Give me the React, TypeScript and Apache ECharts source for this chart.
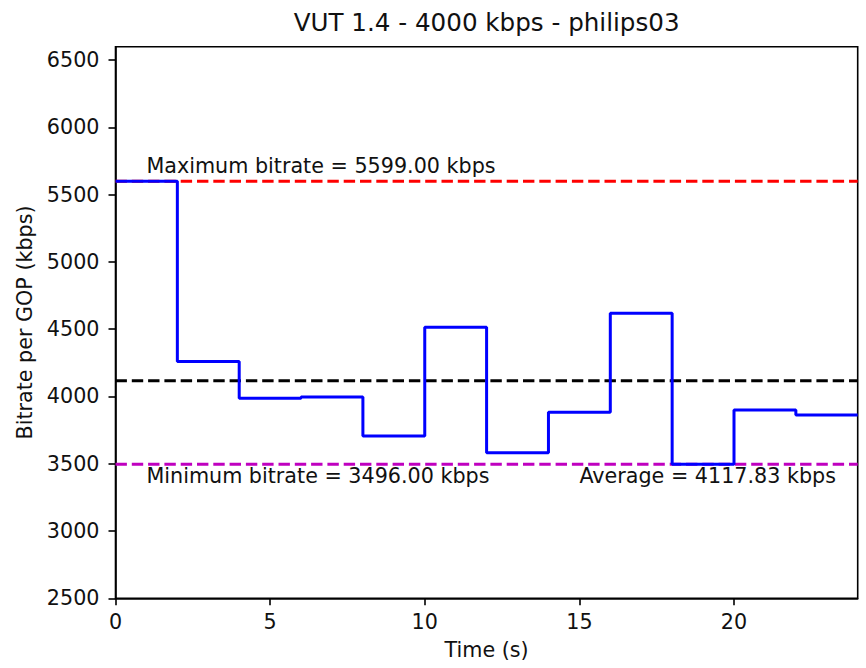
import React, { useEffect, useRef } from "react";
import * as echarts from "echarts";

const chartTitle = "VUT 1.4 - 4000 kbps - philips03";
const xAxisName = "Time (s)";
const yAxisName = "Bitrate per GOP (kbps)";

// GOP start times (s) and bitrate per GOP (kbps)
const gopTimes = [0, 2, 4, 6, 8, 10, 12, 14, 16, 18, 20, 22];
const gopBitrates = [5599, 4260, 3987, 3996, 3707, 4515, 3581, 3883, 4619, 3496, 3900, 3863];
const endTime = 24;

const maxBitrate = 5599.0;
const minBitrate = 3496.0;
const avgBitrate = 4117.83;

const xTicks = [0, 5, 10, 15, 20];
const yTicks = [2500, 3000, 3500, 4000, 4500, 5000, 5500, 6000, 6500];
const xRange = [0, 24];
const yRange = [2500, 6600];

const maxLabelX = 1;
const minLabelX = 1;
const avgLabelX = 15;

const FONT = "DejaVu Sans";

export default function App() {
  const ref = useRef<HTMLDivElement>(null);

  useEffect(() => {
    if (!ref.current) return;
    const chart = echarts.init(ref.current, undefined, { renderer: "svg" });

    const stepData: number[][] = gopTimes.map((t, i) => [t, gopBitrates[i]]);
    stepData.push([endTime, gopBitrates[gopBitrates.length - 1]]);

    const hLine = (v: number) => [
      [xRange[0], v],
      [xRange[1], v],
    ];
    const dash = [11.4, 4.9];

    const textStyle = { fontFamily: FONT, fontSize: 20.7, color: "#111" };
    const plain = (v: number) => String(v);

    chart.setOption({
      animation: false,
      backgroundColor: "#fff",
      textStyle: { fontFamily: FONT },
      grid: {
        left: 115.5,
        right: 8.3,
        top: 46.7,
        bottom: 69.7,
        show: true,
        borderColor: "#000",
        borderWidth: 1.6,
        backgroundColor: "transparent",
      },
      graphic: [
        {
          type: "text",
          x: 486.6,
          y: 22.5,
          style: {
            text: chartTitle,
            fontFamily: FONT,
            fontSize: 24.6,
            fill: "#111",
            textAlign: "center",
            textVerticalAlign: "middle",
          },
        },
      ],
      xAxis: {
        type: "value",
        min: xRange[0],
        max: xRange[1],
        name: xAxisName,
        nameLocation: "middle",
        nameGap: 41,
        nameTextStyle: textStyle,
        splitLine: { show: false },
        axisLine: { show: true, onZero: false, lineStyle: { color: "#000", width: 1.6 } },
        axisTick: {
          show: true,
          length: 7,
          inside: false,
          customValues: xTicks,
          lineStyle: { color: "#000", width: 1.6 },
        },
        axisLabel: { ...textStyle, margin: 13.5, customValues: xTicks, formatter: plain },
      },
      yAxis: {
        type: "value",
        min: yRange[0],
        max: yRange[1],
        name: yAxisName,
        nameLocation: "middle",
        nameGap: 79,
        nameRotate: 90,
        nameTextStyle: textStyle,
        splitLine: { show: false },
        axisLine: { show: true, onZero: false, lineStyle: { color: "#000", width: 1.6 } },
        axisTick: {
          show: true,
          length: 7,
          inside: false,
          customValues: yTicks,
          lineStyle: { color: "#000", width: 1.6 },
        },
        axisLabel: { ...textStyle, margin: 16, customValues: yTicks, formatter: plain },
      },
      series: [
        {
          type: "line",
          data: hLine(maxBitrate),
          symbol: "none",
          lineStyle: { color: "#ff0000", width: 3, type: dash },
          z: 2,
        },
        {
          type: "line",
          data: hLine(avgBitrate),
          symbol: "none",
          lineStyle: { color: "#000000", width: 3, type: dash },
          z: 2,
        },
        {
          type: "line",
          data: hLine(minBitrate),
          symbol: "none",
          lineStyle: { color: "#bf00bf", width: 3, type: dash },
          z: 2,
        },
        {
          type: "line",
          step: "end",
          data: stepData,
          symbol: "none",
          lineStyle: { color: "#0000ff", width: 3 },
          z: 3,
        },
        {
          type: "scatter",
          symbolSize: 0,
          silent: true,
          itemStyle: { opacity: 1 },
          z: 4,
          data: [
            {
              value: [maxLabelX, maxBitrate],
              label: {
                show: true,
                position: [0, -15.5],
                align: "left",
                verticalAlign: "middle",
                opacity: 1,
                formatter: `Maximum bitrate = ${maxBitrate.toFixed(2)} kbps`,
                ...textStyle,
              },
            },
            {
              value: [minLabelX, minBitrate],
              label: {
                show: true,
                position: [0, 12],
                align: "left",
                verticalAlign: "middle",
                opacity: 1,
                formatter: `Minimum bitrate = ${minBitrate.toFixed(2)} kbps`,
                ...textStyle,
              },
            },
            {
              value: [avgLabelX, minBitrate],
              label: {
                show: true,
                position: [0, 12],
                align: "left",
                verticalAlign: "middle",
                opacity: 1,
                formatter: `Average = ${avgBitrate.toFixed(2)} kbps`,
                ...textStyle,
              },
            },
          ],
        },
      ],
    });

    return () => chart.dispose();
  }, []);

  return (
    <div
      ref={ref}
      style={{ position: "fixed", left: 0, top: 0, width: 866, height: 668, background: "#fff" }}
    />
  );
}
